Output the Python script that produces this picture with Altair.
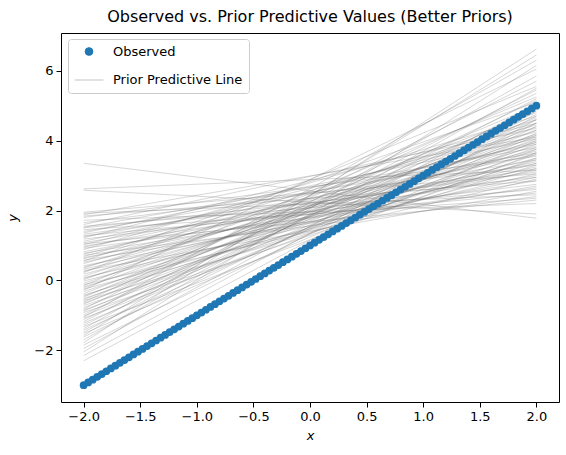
import altair as alt
import pandas as pd

# Observed points (x, y)
obs_x = [-2.00, -1.96, -1.92, -1.88, -1.84, -1.80, -1.76, -1.72, -1.68, -1.64,
         -1.60, -1.56, -1.52, -1.48, -1.44, -1.40, -1.36, -1.32, -1.28, -1.24,
         -1.20, -1.16, -1.12, -1.08, -1.04, -1.00, -0.96, -0.92, -0.88, -0.84,
         -0.80, -0.76, -0.72, -0.68, -0.64, -0.60, -0.56, -0.52, -0.48, -0.44,
         -0.40, -0.36, -0.32, -0.28, -0.24, -0.20, -0.16, -0.12, -0.08, -0.04,
         0.00, 0.04, 0.08, 0.12, 0.16, 0.20, 0.24, 0.28, 0.32, 0.36,
         0.40, 0.44, 0.48, 0.52, 0.56, 0.60, 0.64, 0.68, 0.72, 0.76,
         0.80, 0.84, 0.88, 0.92, 0.96, 1.00, 1.04, 1.08, 1.12, 1.16,
         1.20, 1.24, 1.28, 1.32, 1.36, 1.40, 1.44, 1.48, 1.52, 1.56,
         1.60, 1.64, 1.68, 1.72, 1.76, 1.80, 1.84, 1.88, 1.92, 1.96, 2.00]
obs_y = [-3.00, -2.92, -2.84, -2.76, -2.68, -2.60, -2.52, -2.44, -2.36, -2.28,
         -2.20, -2.12, -2.04, -1.96, -1.88, -1.80, -1.72, -1.64, -1.56, -1.48,
         -1.40, -1.32, -1.24, -1.16, -1.08, -1.00, -0.92, -0.84, -0.76, -0.68,
         -0.60, -0.52, -0.44, -0.36, -0.28, -0.20, -0.12, -0.04, 0.04, 0.12,
         0.20, 0.28, 0.36, 0.44, 0.52, 0.60, 0.68, 0.76, 0.84, 0.92,
         1.00, 1.08, 1.16, 1.24, 1.32, 1.40, 1.48, 1.56, 1.64, 1.72,
         1.80, 1.88, 1.96, 2.04, 2.12, 2.20, 2.28, 2.36, 2.44, 2.52,
         2.60, 2.68, 2.76, 2.84, 2.92, 3.00, 3.08, 3.16, 3.24, 3.32,
         3.40, 3.48, 3.56, 3.64, 3.72, 3.80, 3.88, 3.96, 4.04, 4.12,
         4.20, 4.28, 4.36, 4.44, 4.52, 4.60, 4.68, 4.76, 4.84, 4.92, 5.00]

# Prior predictive lines: value at x = -2 (left) and at x = 2 (right)
line_left = [3.35, 2.62, 2.58, 1.95, 1.92, 1.88, 1.84, 1.80, 1.72, 1.65,
             1.60, 1.55, 1.52, 1.50, 1.45, 1.40, 1.36, 1.32, 1.28, 1.25,
             1.22, 1.18, 1.12, 1.08, 1.05, 1.02, 0.98, 0.95, 0.92, 0.88,
             0.82, 0.78, 0.75, 0.72, 0.68, 0.65, 0.62, 0.58, 0.55, 0.52,
             0.48, 0.42, 0.38, 0.35, 0.32, 0.28, 0.25, 0.22, 0.18, 0.12,
             0.08, 0.05, 0.02, -0.02, -0.08, -0.12, -0.15, -0.18, -0.22, -0.25,
             -0.28, -0.32, -0.38, -0.42, -0.45, -0.48, -0.52, -0.55, -0.58, -0.62,
             -0.65, -0.68, -0.72, -0.78, -0.82, -0.85, -0.88, -0.92, -0.98, -1.02,
             -1.05, -1.08, -1.12, -1.18, -1.22, -1.28, -1.32, -1.38, -1.42, -1.48,
             -1.52, -1.58, -1.62, -1.70, -1.78, -1.85, -1.95, -2.05, -2.15, -2.30]
line_right = [1.78, 3.15, 1.90, 3.05, 2.45, 4.10, 2.85, 3.55, 2.20, 3.30,
              4.35, 2.60, 3.80, 2.95, 2.35, 3.65, 4.05, 3.10, 2.50, 3.45,
              4.50, 2.75, 3.90, 3.20, 2.30, 4.25, 3.00, 3.60, 2.65, 4.70,
              3.35, 2.85, 3.95, 2.40, 4.45, 3.15, 3.70, 2.70, 5.10, 3.40,
              4.15, 2.95, 3.75, 4.60, 3.25, 2.55, 4.00, 5.55, 3.50, 4.30,
              3.05, 3.85, 4.80, 3.35, 4.10, 2.90, 5.25, 3.65, 4.40, 3.20,
              6.05, 3.95, 4.65, 3.45, 4.20, 5.00, 3.80, 4.50, 3.30, 5.35,
              4.05, 4.85, 3.60, 4.30, 5.70, 3.90, 4.60, 3.50, 5.15, 4.20,
              6.30, 3.75, 4.75, 5.45, 4.15, 4.95, 3.65, 5.85, 4.40, 5.20,
              4.00, 6.45, 4.70, 5.50, 6.62, 4.50, 5.05, 6.15, 4.85, 4.60]
line_x_ends = [-2.0, 2.0]

series_names = ["Observed", "Prior Predictive Line"]
series_colors = ["#1f77b4", "rgba(110,110,110,0.40)"]

obs_df = pd.DataFrame({"x": obs_x, "y": obs_y, "series": series_names[0]})

rows = []
for i, (l, r) in enumerate(zip(line_left, line_right)):
    rows.append({"line": i, "x": line_x_ends[0], "y": l, "series": series_names[1]})
    rows.append({"line": i, "x": line_x_ends[1], "y": r, "series": series_names[1]})
lines_df = pd.DataFrame(rows)

x_scale = alt.Scale(domain=[-2.2, 2.2], nice=False, zero=False)
y_scale = alt.Scale(domain=[-3.48, 7.08], nice=False, zero=False)

x_axis = alt.Axis(values=[-2, -1.5, -1, -0.5, 0, 0.5, 1, 1.5, 2], format=".1f",
                  title="x", titleFontStyle="italic", grid=False)
y_axis = alt.Axis(values=[-2, 0, 2, 4, 6], format="d", title="y",
                  titleFontStyle="italic", grid=False, titlePadding=14)

legend = alt.Legend(title=None, orient="none", legendX=7, legendY=6,
                    padding=6, strokeColor="#cccccc", fillColor="rgba(255,255,255,0.85)",
                    cornerRadius=3, labelFontSize=13, labelOffset=9, rowPadding=6,
                    symbolStrokeWidth=1, labelFont="DejaVu Sans", labelColor="black")

fill_scale = alt.Scale(domain=series_names, range=series_colors)
stroke_scale = alt.Scale(domain=series_names, range=series_colors)
shape_scale = alt.Scale(domain=series_names, range=["circle", "stroke"])
size_scale = alt.Scale(domain=series_names, range=[60, 841])

lines = alt.Chart(lines_df).mark_line(strokeWidth=0.7).encode(
    x=alt.X("x:Q", scale=x_scale, axis=x_axis),
    y=alt.Y("y:Q", scale=y_scale, axis=y_axis),
    detail="line:N",
    stroke=alt.Stroke("series:N", scale=stroke_scale, legend=legend),
)

points = alt.Chart(obs_df).mark_point(filled=True, opacity=1, strokeWidth=0).encode(
    x=alt.X("x:Q", scale=x_scale, axis=x_axis),
    y=alt.Y("y:Q", scale=y_scale, axis=y_axis),
    fill=alt.Fill("series:N", scale=fill_scale, legend=legend),
    shape=alt.Shape("series:N", scale=shape_scale, legend=legend),
    size=alt.Size("series:N", scale=size_scale, legend=legend),
)

chart = alt.layer(lines, points).properties(
    width=498, height=369,
    title=alt.TitleParams("Observed vs. Prior Predictive Values (Better Priors)",
                          fontSize=16, fontWeight="normal", font="DejaVu Sans",
                          color="black", anchor="middle", offset=8),
    autosize=alt.AutoSizeParams(type="none"),
    padding={"left": 61, "top": 33, "right": 7, "bottom": 53},
).configure_view(
    stroke="black", strokeWidth=1
).configure_axis(
    domain=False, tickColor="black", tickSize=5, tickWidth=1,
    labelColor="black", labelFontSize=13, labelFont="DejaVu Sans",
    titleColor="black", titleFontSize=13, titleFont="DejaVu Sans",
    titleFontWeight="normal", labelPadding=3, labelFlush=False
).configure_axisX(titlePadding=6)

chart.save("out.html", embed_options={"renderer": "svg", "actions": False})
